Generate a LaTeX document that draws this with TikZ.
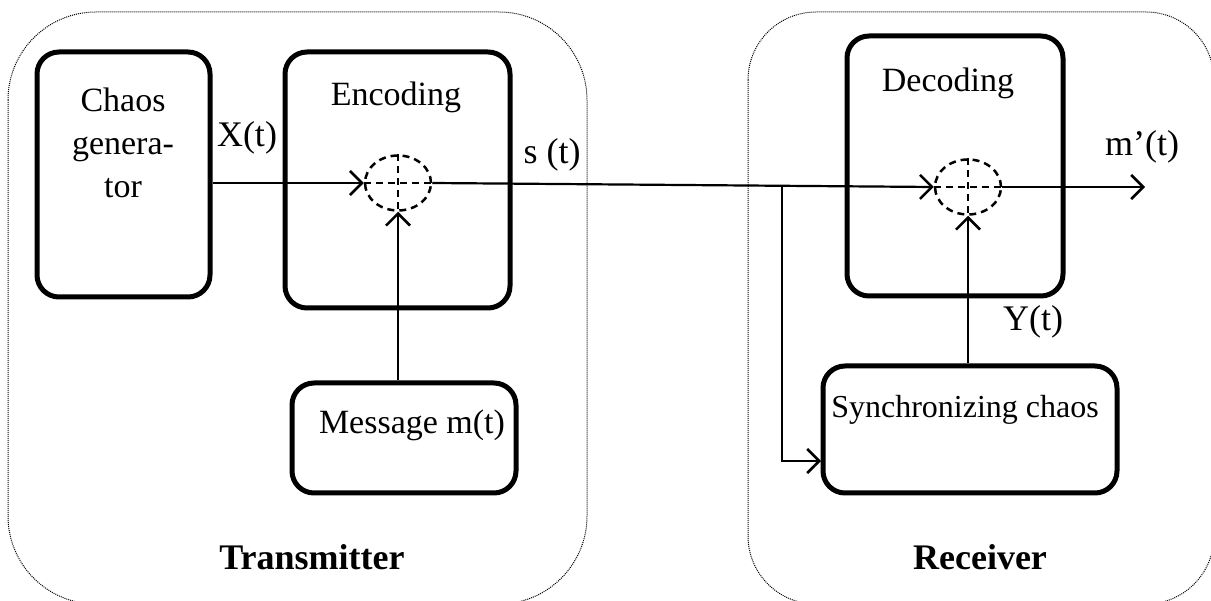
\documentclass[tikz,border=0pt]{standalone}
\usepackage{fontspec}
\setmainfont{Liberation Serif}
\usetikzlibrary{arrows.meta,shapes.geometric,calc}
\begin{document}
\begin{tikzpicture}[x=1pt,y=-1pt,
  blk/.style={draw, line width=5pt, rounded corners=22pt, inner sep=0pt},
  outer/.style={draw=black, densely dotted, line width=1pt},
  sumc/.style={draw, ellipse, dashed, dash pattern=on 7pt off 5pt, line width=2.5pt, minimum width=66pt, minimum height=55pt, inner sep=0pt},
  crs/.style={dashed, dash pattern=on 7pt off 5pt, line width=2.5pt},
  arr/.style={line width=2.2pt, -{Straight Barb[length=12pt,width=24pt,line width=2.5pt]}},
  txt/.style={font=\fontsize{34}{43}\selectfont},
  lbl/.style={font=\fontsize{36}{43}\selectfont, inner sep=0pt},
  big/.style={font=\fontsize{36}{43}\selectfont\bfseries, inner sep=0pt}]
\useasboundingbox (0,0) rectangle (1211,601);
\clip (0,0) rectangle (1211,601);
% outer boxes
\draw[outer, rounded corners=88pt] (8,12) rectangle (587,604);
\draw[outer, rounded corners=68pt] (748,12) rectangle (1214,604);
% blocks
\node[blk, minimum width=173pt, minimum height=245pt] (chaos) at (123.5,174.5) {};
\node[blk, minimum width=225pt, minimum height=256pt] (enc) at (397.5,180) {};
\node[blk, minimum width=224pt, minimum height=110pt] (msg) at (404,438) {};
\node[blk, minimum width=216pt, minimum height=260pt] (dec) at (955,166) {};
\node[blk, minimum width=294pt, minimum height=127pt] (sync) at (970,429.5) {};
% texts in blocks
\node[txt, align=center] (chaosT) at (123,143) {Chaos\\genera-\\tor};
\node[txt] (encT) at (396,97) {Encoding};
\node[txt] (decT) at (948,83) {Decoding};
\node[txt] (msgT) at (412,425) {Message m(t)};
\node[txt, font=\fontsize{32}{40}\selectfont] (syncT) at (965,410) {Synchronizing chaos};
% summing circles
\node[sumc] (encC) at (398,183) {};
\node[sumc] (decC) at (968,187) {};
\draw[crs] (encC.west) -- (encC.east);
\draw[crs] (encC.north) -- (encC.south);
\draw[crs] (decC.west) -- (decC.east);
\draw[crs] (decC.north) -- (decC.south);
% connectors
\draw[arr] (chaos.east |- encC.west) -- (encC.west);
\draw[arr] (msg.north -| encC.south) -- (encC.south);
\draw[arr] (encC.east) -- (decC.west);
\coordinate (tap) at ($(encC.east)!0.698!(decC.west)$);
\coordinate (fbin) at (821,461);
\draw[arr] (tap) |- (fbin);
\draw[arr] (sync.north -| decC.south) -- (decC.south);
\coordinate (out) at (1145,187);
\draw[arr] (decC.east) -- (out);
% labels
\node[lbl] (xl) at (247,138) {X(t)};
\node[lbl] (sl) at (552,155) {s (t)};
\node[lbl] (ml) at (1142,147) {m’(t)};
\node[lbl] (yl) at (1033,322) {Y(t)};
\node[big] (tx) at (312,557) {Transmitter};
\node[big] (rx) at (980,557) {Receiver};
\end{tikzpicture}
\end{document}
